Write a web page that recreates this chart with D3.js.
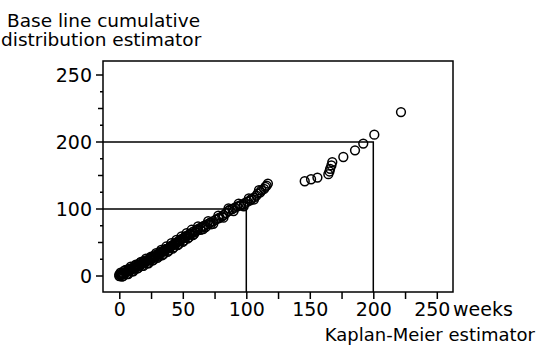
<!DOCTYPE html>
<html>
<head>
<meta charset="utf-8">
<script src="https://cdn.jsdelivr.net/npm/d3@7"></script>
<style>
  body { margin: 0; background: #fff; }
  svg text { font-family: "DejaVu Sans", sans-serif; fill: #000; }
</style>
</head>
<body>
<div id="chart"></div>
<script>
// dense part (0 - 117 weeks)
const kmDense = [0,0,1,1,2,3,3,4,5,5,6,7,8,8,9,10,11,11,12,13,14,14,15,16,17,17,18,19,20,20,21,22,23,24,25,25,26,27,28,29,30,30,31,32,33,34,35,35,36,37,38,39,40,41,42,43,44,45,46,47,48,49,50,51,52,53,55,56,58,59,61,62,64,66,67,69,71,72,74,76,78,79,81,82,84,86,87,89,91,93,95,96,98,99,101,103,104,106,108,109,111,112,114,115,116,117];
const baseDense = [0,2,1,3,2,3,4,5,5,6,7,7,8,9,10,10,11,12,13,13,14,15,16,16,17,18,19,19,20,21,22,23,23,25,25,26,27,28,29,30,30,32,33,34,35,36,37,38,39,40,41,42,43,45,46,47,49,50,51,52,54,55,56,57,59,60,62,63,66,67,69,70,72,74,75,77,79,80,82,84,86,87,89,91,94,97,99,100,102,104,105,106,107,109,111,113,115,117,120,123,125,128,130,133,135,138];
// points lying on the upper / lower edge of the dense band
const kmEdge = [1,3,5,7,9,11,13,15,17,19,21,23,25,27,29,31,33,35,37,39,41,43,45,47,49,51,53,55,57,59,62,66,70,74,78,82,86,90,94,98,102,106,110];
const baseEdge = [5,0,9,3,14,7,17,12,21,15,26,19,29,24,34,29,39,33,44,38,49,43,54,48,59,53,64,58,69,63,74,70,82,78,90,87,101,97,108,104,116,114,128];
const kmEdge2 = [2,4,6,8,10,12,14,16,18,20,22,24,26,28,30,32,34,36,38,40,42,44,46,48,50,52,54,56,58,60,64,68,72];
const baseEdge2 = [-1,8,3,11,7,15,11,19,15,23,19,27,23,31,27,36,31,40,36,44,41,48,46,53,51,57,56,62,61,66,69,73,77];
// sparse part (after 140 weeks)
const kmSparse = [146,151,156,164.6,165.5,166,167,167.7,176.4,185.6,192.1,200.8,221.8];
const baseSparse = [141.4,144.4,146.9,152,156,160,165,170,177.6,187.6,197.6,211,244.6];

const xTickValues = [0,25,50,75,100,125,150,175,200,225,250];
const yTickValues = [0,100,200,300];
const yTickLabels = ['0','100','200','250'];
const refLines = [100,200];

const width = 554, height = 345;
const svg = d3.select('#chart').append('svg')
  .attr('width', width)
  .attr('height', height);

const frame = { left: 103, right: 453, top: 61, bottom: 292 };
const x = d3.scaleLinear().domain([0, 250]).range([119.3, 436.8]);
const y = d3.scaleLinear().domain([0, 300]).range([276, 75]);

// reference lines
refLines.forEach(v => {
  svg.append('path')
    .attr('d', `M${frame.left},${y(v)}H${x(v)}V${frame.bottom}`)
    .attr('fill', 'none')
    .attr('stroke', '#000')
    .attr('stroke-width', 1.5);
});

// frame
svg.append('rect')
  .attr('x', frame.left).attr('y', frame.top)
  .attr('width', frame.right - frame.left)
  .attr('height', frame.bottom - frame.top)
  .attr('fill', 'none')
  .attr('stroke', '#000')
  .attr('stroke-width', 1.5);

// x axis
const xAxis = svg.append('g')
  .attr('transform', `translate(0,${frame.bottom})`)
  .call(d3.axisBottom(x).tickValues(xTickValues).tickSize(7).tickPadding(4)
    .tickFormat(d => d % 50 === 0 ? d : ''));
xAxis.select('.domain').remove();
xAxis.selectAll('line').attr('stroke-width', 1.5);
xAxis.selectAll('text')
  .attr('font-size', 19)
  .attr('font-family', '"DejaVu Sans", sans-serif')
  .attr('dx', d => d === 250 ? -5 : 0);

// y axis with minor ticks
const yMinor = d3.range(0, 301, 25);
const yAxisG = svg.append('g').attr('transform', `translate(${frame.left},0)`);
yAxisG.selectAll('line').data(yMinor).join('line')
  .attr('x1', d => d % 100 === 0 ? -7 : (d % 50 === 0 ? -5 : -3))
  .attr('x2', 0)
  .attr('y1', d => y(d)).attr('y2', d => y(d))
  .attr('stroke', '#000')
  .attr('stroke-width', 1.5);
yAxisG.selectAll('text').data(yTickValues).join('text')
  .attr('x', -11)
  .attr('y', d => y(d))
  .attr('dy', '0.36em')
  .attr('text-anchor', 'end')
  .attr('font-size', 19)
  .text((d, i) => yTickLabels[i]);

// points
const pts = kmDense.map((d, i) => [d, baseDense[i]])
  .concat(kmEdge.map((d, i) => [d, baseEdge[i]]))
  .concat(kmEdge2.map((d, i) => [d, baseEdge2[i]]))
  .concat(kmSparse.map((d, i) => [d, baseSparse[i]]));
svg.append('g').selectAll('circle').data(pts).join('circle')
  .attr('cx', d => x(d[0]))
  .attr('cy', d => y(d[1]))
  .attr('r', 4.4)
  .attr('fill', 'none')
  .attr('stroke', '#000')
  .attr('stroke-width', 1.5);

// labels
svg.append('text').attr('x', 7).attr('y', 26.5).attr('font-size', 18.5).text('Base line cumulative');
svg.append('text').attr('x', 1).attr('y', 45.5).attr('font-size', 18.5).text('distribution estimator');
svg.append('text').attr('x', 453).attr('y', 316).attr('font-size', 19).text('weeks');
svg.append('text').attr('x', 535).attr('y', 341).attr('text-anchor', 'end').attr('font-size', 18).text('Kaplan-Meier estimator');
</script>
</body>
</html>
